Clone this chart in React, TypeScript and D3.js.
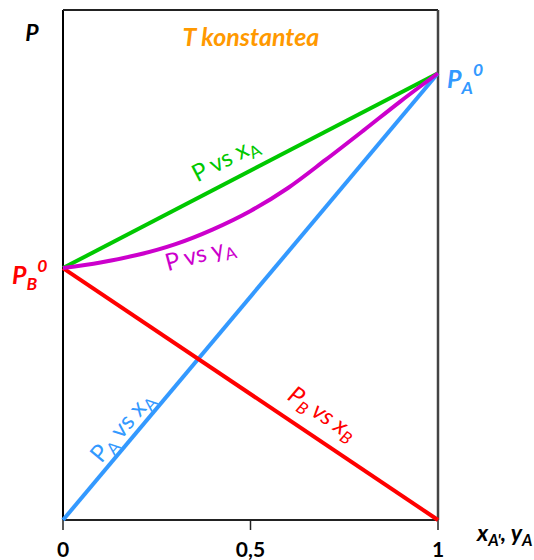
import React from "react";
import * as d3 from "d3";

// Vapour pressures of the pure components (arbitrary pressure units)
const P_A0 = 87.6;
const P_B0 = 49.4;

// Mole fraction endpoints for the straight Raoult lines
const xA = [0, 1];
const pTotalVsX = [P_B0, P_A0];
const pAVsX = [0, P_A0];
const pBVsX = [P_B0, 0];

// Dew curve: total pressure against vapour composition
const yA = [0, 0.1, 0.2, 0.3, 0.4, 0.5, 0.6, 0.7, 0.8, 0.9, 1];
const pTotalVsY = [49.4, 50.5, 52.0, 54.1, 57.0, 60.6, 65.1, 70.6, 76.3, 82.1, 87.6];

const xTicks = [0, 0.5, 1];
const xTickLabels = ["0", "0,5", "1"];

const W = 534;
const H = 560;
const FONT = "Lato, 'Open Sans', sans-serif";

const GREEN = "#00c800";
const MAGENTA = "#cc00cc";
const BLUE = "#3399ff";
const RED = "#ff0000";
const ORANGE = "#ff9900";

export default function App() {
  const x = d3.scaleLinear().domain([0, 1]).range([63, 438]);
  const y = d3.scaleLinear().domain([0, 100]).range([520, 10]);

  const line = d3
    .line<[number, number]>()
    .x((d) => x(d[0]))
    .y((d) => y(d[1]));
  const curve = d3
    .line<[number, number]>()
    .x((d) => x(d[0]))
    .y((d) => y(d[1]))
    .curve(d3.curveCatmullRom.alpha(0.5));

  const zip = (a: number[], b: number[]) => a.map((v, i) => [v, b[i]] as [number, number]);

  const angle = (a: number[], b: number[]) =>
    (Math.atan2(y(b[1]) - y(b[0]), x(a[1]) - x(a[0])) * 180) / Math.PI;

  const aTotal = angle(xA, pTotalVsX);
  const aA = angle(xA, pAVsX);
  const aB = angle(xA, pBVsX);

  const sub = { fontSize: "0.7em" } as React.CSSProperties;

  return (
    <svg
      width={W}
      height={H}
      style={{ position: "absolute", left: 0, top: 0, background: "#fff" }}
      fontFamily={FONT}
    >
      {/* frame */}
      <line x1={x(0)} x2={x(0)} y1={y(100)} y2={y(0)} stroke="#000" strokeWidth={2} />
      <line x1={x(0)} x2={x(1)} y1={y(100)} y2={y(100)} stroke="#222" strokeWidth={2} />
      <line x1={x(1)} x2={x(1)} y1={y(100)} y2={y(0)} stroke="#444" strokeWidth={2.5} />
      <line x1={x(0)} x2={x(1)} y1={y(0)} y2={y(0)} stroke="#222" strokeWidth={2} />

      {/* x ticks */}
      {xTicks.map((t, i) => (
        <g key={t}>
          <line x1={x(t)} x2={x(t)} y1={y(0)} y2={y(0) + 10} stroke="#222" strokeWidth={1.5} />
          <text
            x={x(t)}
            y={557}
            textAnchor="middle"
            fontSize={21}
            fontWeight="bold"
            fill="#000"
          >
            {xTickLabels[i]}
          </text>
        </g>
      ))}

      {/* curves */}
      <path d={line(zip(xA, pAVsX)) || ""} fill="none" stroke={BLUE} strokeWidth={4} />
      <path d={line(zip(xA, pBVsX)) || ""} fill="none" stroke={RED} strokeWidth={4} />
      <path d={line(zip(xA, pTotalVsX)) || ""} fill="none" stroke={GREEN} strokeWidth={4} />
      <path d={curve(zip(yA, pTotalVsY)) || ""} fill="none" stroke={MAGENTA} strokeWidth={4} />

      {/* axis titles */}
      <text x={32} y={41} textAnchor="middle" fontSize={23} fontWeight="bold" fontStyle="italic">
        P
      </text>
      <text x={477} y={541} fontSize={23} fontWeight="bold" fontStyle="italic">
        x<tspan dy={5} style={sub}>A'</tspan>
        <tspan dy={-5}>, y</tspan>
        <tspan dy={5} style={sub}>A</tspan>
      </text>

      {/* title */}
      <text
        x={251}
        y={46}
        textAnchor="middle"
        fontSize={25}
        fontWeight="bold"
        fontStyle="italic"
        fill={ORANGE}
      >
        T konstantea
      </text>

      {/* pure-component pressures */}
      <text x={447} y={88} fontSize={25} fontWeight="bold" fontStyle="italic" fill={BLUE}>
        P<tspan dy={6} style={sub}>A</tspan>
        <tspan dy={-18} style={sub}>0</tspan>
      </text>
      <text x={12} y={284} fontSize={25} fontWeight="bold" fontStyle="italic" fill={RED}>
        P<tspan dy={6} style={sub}>B</tspan>
        <tspan dy={-18} style={sub}>0</tspan>
      </text>

      {/* curve labels */}
      <text
        transform={`translate(229,166) rotate(${aTotal})`}
        textAnchor="middle"
        fontSize={24}
        fill={GREEN}
      >
        P vs x<tspan dy={5} style={sub}>A</tspan>
      </text>
      <text
        transform={`translate(202,262) rotate(-15)`}
        textAnchor="middle"
        fontSize={24}
        fill={MAGENTA}
      >
        P vs y<tspan dy={5} style={sub}>A</tspan>
      </text>
      <text
        transform={`translate(128,432) rotate(${aA})`}
        textAnchor="middle"
        fontSize={24}
        fill={BLUE}
      >
        P<tspan dy={5} style={sub}>A</tspan>
        <tspan dy={-5}> vs x</tspan>
        <tspan dy={5} style={sub}>A</tspan>
      </text>
      <text
        transform={`translate(318,420) rotate(${aB})`}
        textAnchor="middle"
        fontSize={24}
        fontStyle="italic"
        fill={RED}
      >
        P<tspan dy={5} style={sub}>B</tspan>
        <tspan dy={-5}> vs x</tspan>
        <tspan dy={5} style={sub}>B</tspan>
      </text>
    </svg>
  );
}
